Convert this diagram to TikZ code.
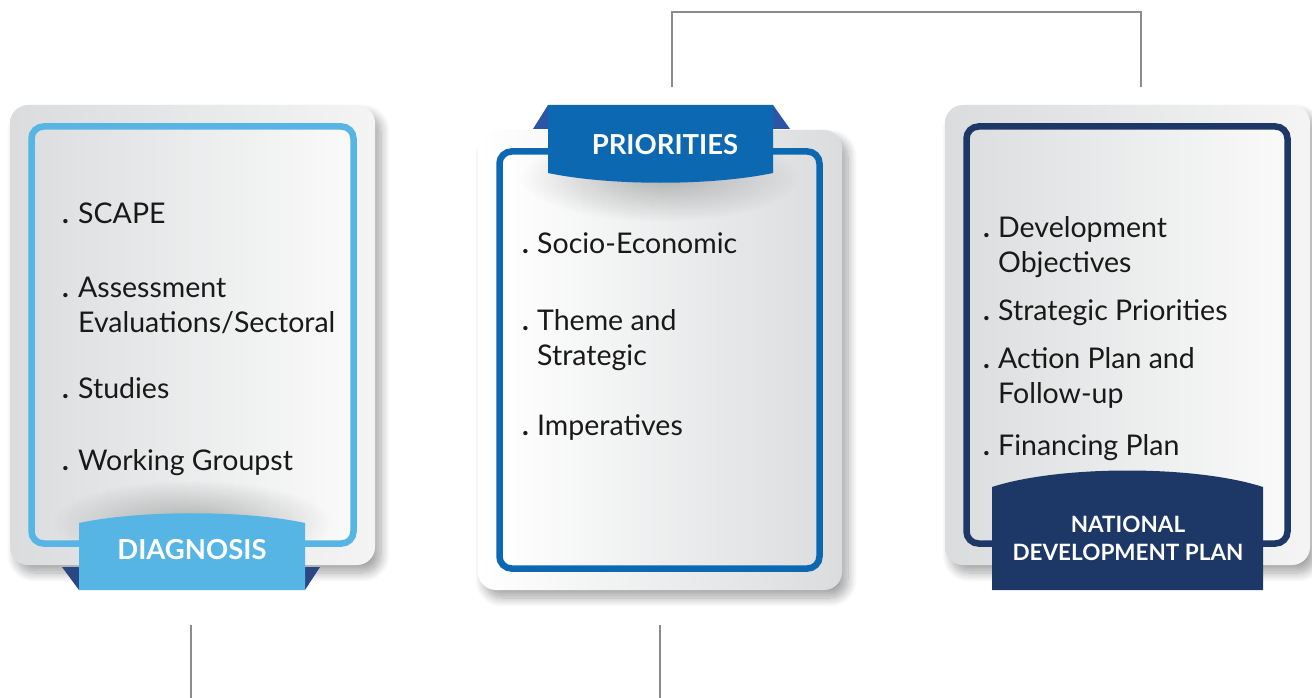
\documentclass[tikz,border=0pt]{standalone}
\usepackage{fontspec}
\setmainfont{Lato}
\usetikzlibrary{shadows,shadows.blur,fadings}
\definecolor{lblue}{HTML}{56B5E5}
\definecolor{mblue}{HTML}{0D68B2}
\definecolor{navy}{HTML}{1D3767}
\definecolor{foldnavy}{HTML}{2A4784}
\definecolor{foldblue}{HTML}{2D55A5}
\definecolor{cardgrey}{HTML}{DADCDD}
\definecolor{cardlight}{HTML}{F4F4F4}
\definecolor{innergrey}{HTML}{DCDEDF}
\definecolor{linegrey}{HTML}{8C8C8C}
\tikzfading[name=softblob, inner color=transparent!10, outer color=transparent!100]
\begin{document}
\begin{tikzpicture}[x=1pt,y=-1pt,
  outercard/.style={rounded corners=18, blur shadow={shadow blur steps=12, shadow xshift=6pt, shadow yshift=-8pt, shadow blur radius=9pt, shadow opacity=35}},
  innercard/.style={line width=6.5, rounded corners=12},
  item/.style={anchor=base west, inner sep=0, font=\fontsize{28.5}{30}\selectfont, text=black!90},
  dot/.style={anchor=base east, inner sep=0, font=\bfseries\fontsize{28.5}{30}\selectfont, text=black!90},
  bannertext/.style={inner sep=0, text=white, font=\bfseries\fontsize{27.5}{30}\selectfont},
  smallbanner/.style={inner sep=0, text=white, align=center, font=\bfseries\fontsize{22.5}{28}\selectfont},
  conn/.style={draw=linegrey, line width=1.3},
  softshade/.style={fill=black, opacity=0.28, path fading=softblob}
]
\useasboundingbox (0,0) rectangle (1312,698);

% ---------- connectors ----------
\coordinate (pt) at (672,87);
\coordinate (nt) at (1141,87);
\coordinate (db) at (191,625);
\coordinate (dbend) at (191,698);
\coordinate (pb) at (660,625);
\coordinate (pbend) at (660,698);
\draw[conn] (pt) |- (906,12) -| (nt);
\draw[conn] (db) -- (dbend);
\draw[conn] (pb) -- (pbend);

% ---------- LEFT CARD ----------
\path[outercard, left color=cardgrey, right color=cardlight] (10,105) rectangle (375,565);
\draw[innercard, draw=lblue, left color=innergrey, right color=white!98!black] (31.5,126.5) rectangle (353.5,543.5);
\begin{scope}
\clip (35,130) rectangle (350,540);
\fill[softshade] (52,480) rectangle (332,565);
\end{scope}
\fill[foldnavy] (62,567) -- (79,567) -- (79,590) -- cycle;
\fill[foldnavy] (320,567) -- (305,567) -- (305,590) -- cycle;
\fill[lblue] (79,590) -- (79,523) .. controls (140,510) and (245,510) .. (305,523) -- (305,590) -- cycle;
\node[bannertext] (diag) at (192,550) {DIAGNOSIS};

\node[dot] at (69,223) {.};  \node[item] (l1) at (78,223) {SCAPE};
\node[dot] at (69,297) {.};  \node[item] (l2) at (78,297) {Assessment};
\node[item] (l2b) at (78,332) {Evaluations/Sectoral};
\node[dot] at (69,398) {.};  \node[item] (l3) at (78,398) {Studies};
\node[dot] at (69,470) {.};  \node[item] (l4) at (78,470) {Working Groupst};

% ---------- MIDDLE CARD ----------
\path[outercard, left color=white, right color=cardgrey] (478,130) rectangle (842,590);
\draw[innercard, draw=mblue, left color=white, right color=innergrey] (499.5,151.5) rectangle (819.5,568.5);
\begin{scope}
\clip (503,155) rectangle (816,565);
\fill[softshade] (520,132) rectangle (800,222);
\end{scope}
\fill[foldblue] (533,129) -- (548,129) -- (548,105) -- cycle;
\fill[foldblue] (790,129) -- (773,129) -- (773,105) -- cycle;
\fill[mblue] (548,105) -- (548,173) .. controls (610,186) and (711,186) .. (773,173) -- (773,105) -- cycle;
\node[bannertext] (prio) at (665,145) {PRIORITIES};

\node[dot] at (529,253) {.};  \node[item] (m1) at (537,253) {Socio-Economic};
\node[dot] at (529,330) {.};  \node[item] (m2) at (537,330) {Theme and};
\node[item] (m2b) at (537,365) {Strategic};
\node[dot] at (529,435) {.};  \node[item] (m3) at (537,435) {Imperatives};

% ---------- RIGHT CARD ----------
\path[outercard, left color=cardgrey, right color=cardlight] (945,105) rectangle (1310,565);
\draw[innercard, draw=navy, left color=innergrey, right color=white!98!black] (966.5,126.5) rectangle (1287.5,543.5);
\fill[navy] (992,590) -- (992,487) .. controls (1060,465) and (1195,465) .. (1263,487) -- (1263,590) -- cycle;
\node[smallbanner] (ndp) at (1128,538) {NATIONAL\\DEVELOPMENT PLAN};

\node[dot] at (990,237) {.};  \node[item] (r1) at (998,237) {Development};
\node[item] (r1b) at (998,272) {Objectives};
\node[dot] at (990,320) {.};  \node[item] (r2) at (998,320) {Strategic Priorities};
\node[dot] at (990,368) {.};  \node[item] (r3) at (998,368) {Action Plan and};
\node[item] (r3b) at (998,403) {Follow-up};
\node[dot] at (990,455) {.};  \node[item] (r4) at (998,455) {Financing Plan};
\end{tikzpicture}
\end{document}
